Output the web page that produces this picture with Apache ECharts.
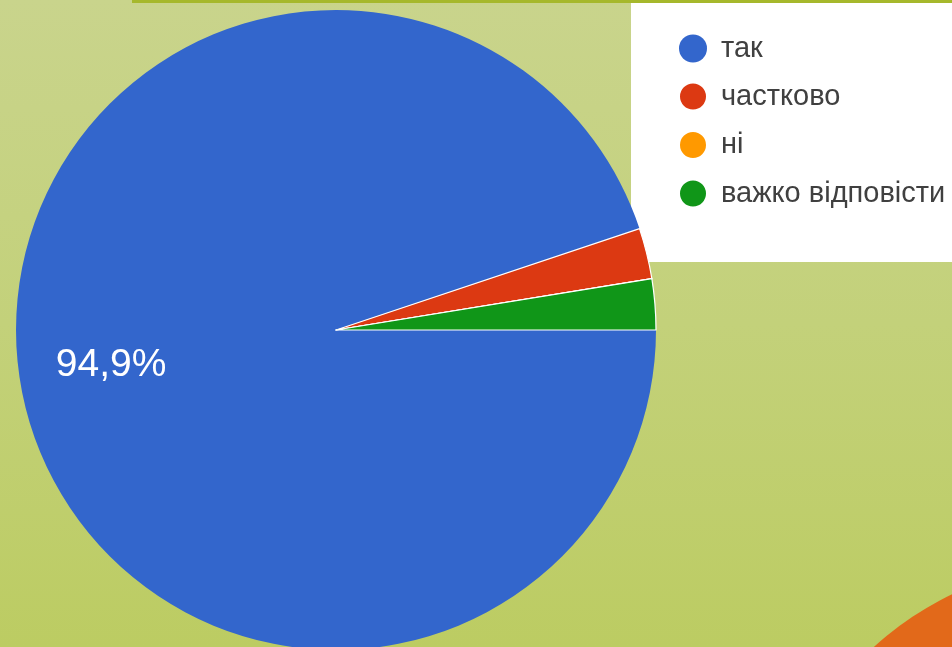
<!DOCTYPE html>
<html>
<head>
<meta charset="utf-8">
<script src="https://cdn.jsdelivr.net/npm/echarts@6/dist/echarts.min.js"></script>
<style>
  html, body { margin: 0; padding: 0; }
  body { width: 952px; height: 647px; overflow: hidden;
         background: linear-gradient(to bottom, #c9d48c 0%, #c3d17a 50%, #bccc62 100%); }
  #chart { width: 952px; height: 647px; }
</style>
</head>
<body>
<div id="chart"></div>
<script>
// --- data ---
const categories = ['так', 'частково', 'ні', 'важко відповісти'];
const counts = [37, 1, 0, 1];
const colors = ['#3366cc', '#dc3912', '#ff9900', '#109618'];

const chart = echarts.init(document.getElementById('chart'));

const pieData = categories.map((name, i) => ({
    name: name,
    value: counts[i],
    // white separators only around the small slices
    itemStyle: { color: colors[i], borderColor: '#ffffff', borderWidth: i === 0 ? 0 : 1.2 },
    // Google shows the label only for the big slice
    label: { show: i === 0 }
}));

chart.setOption({
    animation: false,
    backgroundColor: 'transparent',
    graphic: [
        // olive strip on top
        { type: 'rect', shape: { x: 132, y: 0, width: 820, height: 3 }, style: { fill: '#a6b82c' }, z: 0 },
        // white legend panel
        { type: 'rect', shape: { x: 631, y: 3, width: 321, height: 259 }, style: { fill: '#ffffff' }, z: 0 },
        // orange corner of the slide
        { type: 'circle', shape: { cx: 1093, cy: 887, r: 325 }, style: { fill: '#e2691a' }, z: 0 }
    ],
    legend: {
        orient: 'vertical',
        left: 673,
        top: 29,
        icon: 'circle',
        itemWidth: 28,
        itemHeight: 28,
        itemGap: 18.5,
        selectedMode: false,
        textStyle: { fontSize: 29, color: '#404040', fontFamily: 'Liberation Sans, Arial, sans-serif', padding: [0, 0, 0, 9] },
        data: categories
    },
    series: [{
        type: 'pie',
        center: [336, 330],
        radius: [0, 320],
        startAngle: 0,
        clockwise: true,
        avoidLabelOverlap: false,
        minShowLabelAngle: 0,
        label: {
            position: 'inside',
            formatter: p => p.percent.toFixed(1).replace('.', ',') + '%',
            color: '#ffffff',
            fontSize: 39,
            fontFamily: 'Liberation Sans, Arial, sans-serif'
        },
        labelLine: { show: false },
        labelLayout: { dx: -64, dy: 9 },
        emphasis: { disabled: true },
        data: pieData
    }]
});
</script>
</body>
</html>
